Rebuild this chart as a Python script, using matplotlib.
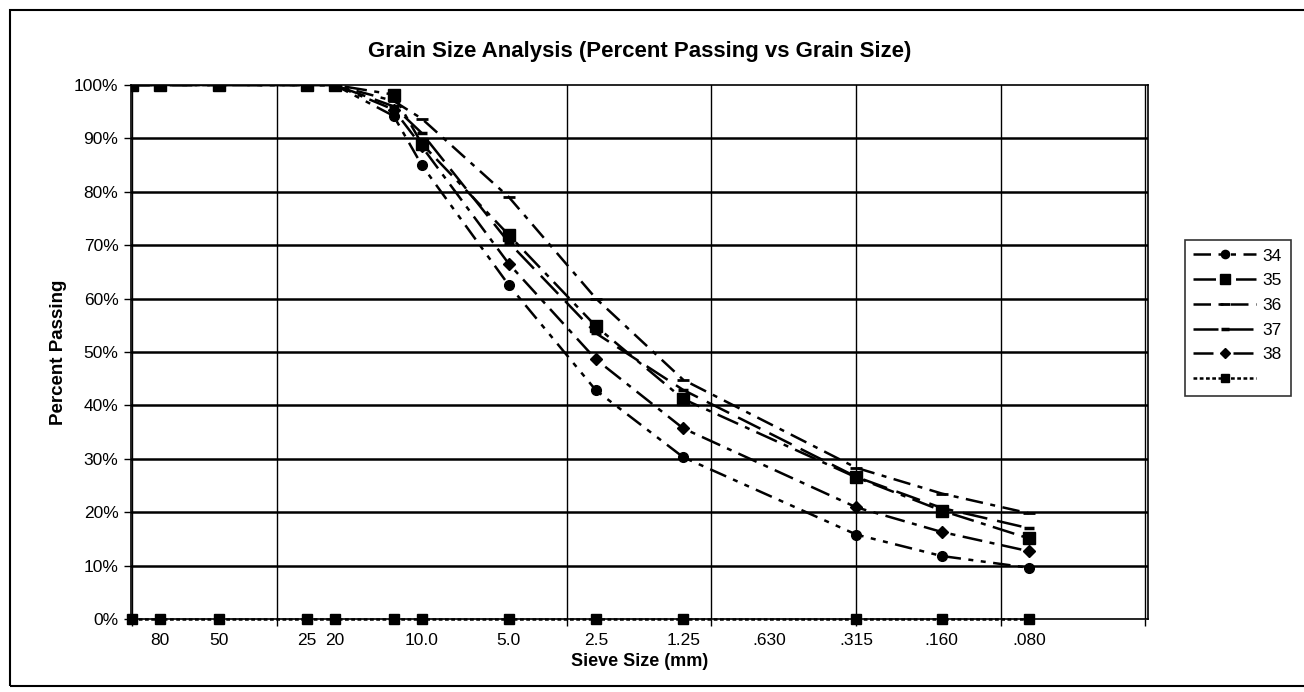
import matplotlib.pyplot as plt
import matplotlib.ticker as mticker
from matplotlib.patches import Rectangle

plt.rcParams['font.family'] = ['Liberation Sans', 'DejaVu Sans']

# sieve sizes (mm) and percent passing
sizes = [100, 80, 50, 25, 20, 12.5, 10, 5, 2.5, 1.25, 0.315, 0.16, 0.08]
s34 = [100, 100, 100, 100, 100, 94.2, 85.0, 62.5, 42.8, 30.3, 15.8, 11.8, 9.6]
s35 = [100, 100, 100, 100, 100, 98.2, 89.0, 71.9, 54.8, 41.2, 26.5, 20.3, 15.1]
s36 = [100, 100, 100, 100, 100, 97.0, 93.7, 79.0, 60.0, 44.8, 28.3, 23.5, 19.8]
s37 = [100, 100, 100, 100, 100, 96.0, 91.0, 70.5, 53.5, 42.9, 26.6, 20.8, 17.0]
s38 = [100, 100, 100, 100, 100, 95.4, 88.5, 66.5, 48.6, 35.7, 20.9, 16.3, 12.7]
s_zero = [0] * 13

tick_vals = [80, 50, 25, 20, 10, 5, 2.5, 1.25, 0.63, 0.315, 0.16, 0.08]
tick_labels = ['80', '50', '25', '20', '10.0', '5.0', '2.5', '1.25', '.630', '.315', '.160', '.080']
grid_vals = [100, 31.6228, 10, 3.16228, 1, 0.316228, 0.1, 0.0316228]
ygrid_vals = [10, 20, 30, 40, 50, 60, 70, 80, 90]
yedge_vals = [0, 100]

fig = plt.figure(figsize=(13.04, 6.92), dpi=100)
ax = fig.add_axes([131/1304, 1 - 619/692, (1148-131)/1304, (619-85)/692])

ax.plot(sizes, s34, color='k', lw=1.8, ls=(0, (7, 3, 2, 3, 2, 3)), marker='o', ms=7, label='34')
ax.plot(sizes, s35, color='k', lw=1.8, ls=(0, (9, 3, 2, 3)), marker='s', ms=8, label='35')
ax.plot(sizes, s36, color='k', lw=1.8, ls=(0, (7, 3, 2, 3)), marker='_', ms=8, mew=2, label='36')
ax.plot(sizes, s37, color='k', lw=1.8, ls=(0, (10, 4)), marker='_', ms=7, mew=2.5, label='37')
ax.plot(sizes, s38, color='k', lw=1.8, ls=(0, (8, 3, 2, 3)), marker='D', ms=6.5, label='38')
ax.plot(sizes, s_zero, color='k', lw=1.8, ls=(0, (1.5, 1)), marker='s', ms=7.5, label=' ', clip_on=False)

ax.set_xscale('log')
ax.set_xlim(101, 0.031)
ax.set_ylim(0, 100)

ax.xaxis.set_major_locator(mticker.FixedLocator(tick_vals))
ax.xaxis.set_major_formatter(mticker.FixedFormatter(tick_labels))
ax.xaxis.set_minor_locator(mticker.FixedLocator(grid_vals))
ax.xaxis.set_minor_formatter(mticker.NullFormatter())
ax.tick_params(axis='x', which='major', length=0, labelsize=12.5, pad=10)
ax.tick_params(axis='x', which='minor', length=5, width=1, direction='out')
ax.grid(True, axis='x', which='minor', color='k', lw=1.0)

pct = mticker.FuncFormatter(lambda v, p: '%d%%' % v)
ax.yaxis.set_major_locator(mticker.FixedLocator(ygrid_vals))
ax.yaxis.set_major_formatter(pct)
ax.yaxis.set_minor_locator(mticker.FixedLocator(yedge_vals))
ax.yaxis.set_minor_formatter(pct)
ax.tick_params(axis='y', which='both', length=5, width=1, labelsize=12.5, pad=4)
ax.grid(True, axis='y', which='major', color='k', lw=1.8)
ax.set_axisbelow(True)

for s in ['top', 'right', 'left']:
    ax.spines[s].set_linestyle((0, (1, 1)))
    ax.spines[s].set_linewidth(1.2)
ax.spines['bottom'].set_linewidth(1.2)

ax.set_title('Grain Size Analysis (Percent Passing vs Grain Size)', fontsize=16, fontweight='bold', pad=20)
ax.set_xlabel('Sieve Size (mm)', fontsize=13, fontweight='bold', labelpad=4)
ax.set_ylabel('Percent Passing', fontsize=13.5, fontweight='bold', labelpad=5)

handles, labels = ax.get_legend_handles_labels()
leg = ax.legend(handles, ['34', '35', '36', '37', '38', ''], loc='upper left',
                bbox_to_anchor=(1176/1304, 1 - 231/692), bbox_transform=fig.transFigure,
                fancybox=False, edgecolor='k', fontsize=12.5, handlelength=3.6,
                labelspacing=0.55, borderpad=0.5, handletextpad=0.4, markerscale=0.85)
leg.get_frame().set_linewidth(1.2)

fig.patches.append(Rectangle((10/1304, 6/692), 1.2, 1 - 16/692, transform=fig.transFigure,
                             fill=False, edgecolor='k', lw=1.5))

fig.savefig('out.png', dpi=100)
